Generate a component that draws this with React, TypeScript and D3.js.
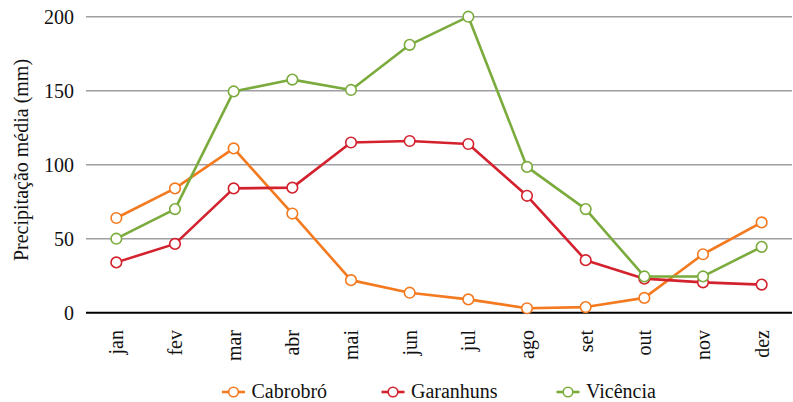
import React from "react";
import * as d3 from "d3";

const months = ["jan", "fev", "mar", "abr", "mai", "jun", "jul", "ago", "set", "out", "nov", "dez"];
const cabrobro = [64, 84, 111, 67, 22, 13.5, 9, 3, 3.8, 10, 39.5, 61];
const garanhuns = [34, 46.5, 84, 84.5, 115, 116, 114, 79, 35.5, 23, 20.5, 19];
const vicencia = [50, 70, 149.5, 157.5, 150.5, 181, 200, 98.5, 70, 24.5, 24.5, 44.5];
const yTicks = [0, 50, 100, 150, 200];

const series = [
  { name: "Cabrobró", values: cabrobro, color: "#F47A20" },
  { name: "Garanhuns", values: garanhuns, color: "#D3212D" },
  { name: "Vicência", values: vicencia, color: "#7AAB3C" },
];

const font = "Liberation Serif, Times New Roman, DejaVu Serif, serif";
const txt = { fontFamily: font, fontSize: "20px", fill: "#111" };

export default function App() {
  const width = 793;
  const height = 402;

  const x = d3.scaleBand().domain(months).range([87, 791]);
  const y = d3.scaleLinear().domain([0, 200]).range([312.7, 16.7]);
  const cx = (m: string) => (x(m) as number) + x.bandwidth() / 2;

  const line = d3
    .line<number>()
    .x((_, i) => cx(months[i]))
    .y((d) => y(d));

  // legend slots
  const legendX = [233.5, 393, 568];

  return (
    <svg
      width={width}
      height={height}
      style={{ position: "absolute", left: 0, top: 0, background: "#fff" }}
    >
      {yTicks.map((t) => (
        <g key={t}>
          {t > 0 && (
            <line x1={86} x2={792} y1={y(t)} y2={y(t)} stroke="#9E9EA3" strokeWidth={1.6} />
          )}
          <text x={74} y={y(t)} dy="0.35em" textAnchor="end" style={txt}>
            {t}
          </text>
        </g>
      ))}
      <line x1={86} x2={792} y1={y(0)} y2={y(0)} stroke="#000" strokeWidth={2} />

      <text transform={`translate(28,160) rotate(-90)`} textAnchor="middle" style={txt}>
        Precipitação média (mm)
      </text>

      {months.map((m) => (
        <text
          key={m}
          transform={`translate(${cx(m)},330) rotate(-90)`}
          textAnchor="end"
          dy="0.35em"
          style={txt}
        >
          {m}
        </text>
      ))}

      {series.map((s) => (
        <g key={s.name}>
          <path d={line(s.values) as string} fill="none" stroke={s.color} strokeWidth={2.6} strokeLinejoin="round" />
          {s.values.map((v, i) => (
            <circle key={i} cx={cx(months[i])} cy={y(v)} r={5.3} fill="#fff" stroke={s.color} strokeWidth={1.6} />
          ))}
        </g>
      ))}

      {series.map((s, i) => (
        <g key={s.name} transform={`translate(${legendX[i]},392)`}>
          <line x1={-11.5} x2={11.5} y1={0} y2={0} stroke={s.color} strokeWidth={2.6} />
          <circle r={4.8} fill="#fff" stroke={s.color} strokeWidth={1.6} />
          <text x={18} y={0} dy="5.5" style={txt}>
            {s.name}
          </text>
        </g>
      ))}
    </svg>
  );
}
